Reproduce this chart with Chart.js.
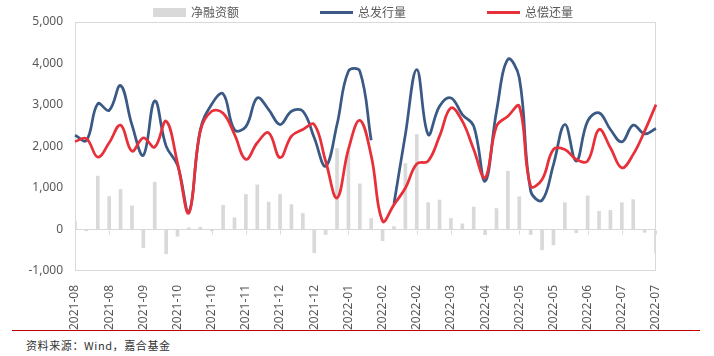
<!DOCTYPE html>
<html>
<head>
<meta charset="utf-8">
<script src="https://cdn.jsdelivr.net/npm/chart.js@4/dist/chart.umd.min.js"></script>
<style>
  html, body { margin: 0; padding: 0; background: #fff; }
  #wrap { position: relative; width: 714px; height: 356px; overflow: hidden; }
  #c { position: absolute; left: 0; top: 0; }
  #legend { position: absolute; top: 4px; left: 0; width: 714px; box-sizing: border-box; padding-left: 12px;
            display: flex; justify-content: center; gap: 81px; font: 12px "Noto Sans CJK SC", "Noto Sans", sans-serif; color: #595959; line-height: 16px; }
  .li { display: flex; align-items: center; }
  .sw { width: 33px; margin-right: 5px; }
  #rule { position: absolute; left: 12px; top: 330px; width: 688px; height: 1px; background: #C00000; }
  #src { position: absolute; left: 26px; top: 337px; font: 11px "Noto Sans CJK SC", sans-serif; color: #333; letter-spacing: 0.6px; }
</style>
</head>
<body>
<div id="wrap">
  <canvas id="c" width="714" height="330"></canvas>
  <div id="legend"></div>
  <div id="rule"></div>
  <div id="src">资料来源：Wind，嘉合基金</div>
</div>
<script>
// Weekly categories (month of each week)
const weeks = [
  '2021-08','2021-08','2021-08','2021-08','2021-08',
  '2021-09','2021-09','2021-09','2021-09',
  '2021-10','2021-10','2021-10','2021-10',
  '2021-11','2021-11','2021-11','2021-11','2021-11',
  '2021-12','2021-12','2021-12','2021-12',
  '2022-01','2022-01','2022-01','2022-01','2022-01',
  '2022-02','2022-02','2022-02','2022-02',
  '2022-03','2022-03','2022-03','2022-03',
  '2022-04','2022-04','2022-04','2022-04',
  '2022-05','2022-05','2022-05','2022-05','2022-05',
  '2022-06','2022-06','2022-06','2022-06',
  '2022-07','2022-07','2022-07','2022-07'
];

// 净融资额
const netFinancing = [
  185, -30, 1285, 795, 965, 570, -440, 1140, -585, -160,
  40, 55, -30, 585, 280, 845, 1075, 660, 845, 600,
  385, -560, -120, 1950, 1890, 1100, 265, -270, 70, 1590,
  2290, 645, 710, 265, 135, 540, -125, 505, 1405, 790,
  -120, -490, -370, 645, -78, 810, 440, 460, 645, 720,
  -68, -570
];

// 总发行量
const totalIssuance = [
  2270, 2145, 3030, 2870, 3470, 2520, 1790, 3100, 2010, 1550,
  420, 2400, 3020, 3270, 2400, 2480, 3170, 2890, 2530, 2850,
  2850, 2210, 1525, 2530, 3815, 3815, 2150, null, 620, 2290,
  3855, 2290, 2970, 3170, 2770, 2490, 1165, 2850, 4100, 3655,
  925, 705, 1565, 2530, 1650, 2610, 2810, 2410, 2110, 2515,
  2305, 2435
];

// 总偿还量
const totalRepayment = [
  2120, 2190, 1745, 2090, 2515, 1890, 2210, 1985, 2610, 1600,
  400, 2370, 2850, 2800, 2290, 1690, 2090, 2330, 1730, 2250,
  2410, 2530, 1650, 760, 1930, 2630, 1780, 200, 600, 1000,
  1580, 1650, 2250, 2930, 2610, 1930, 1245, 2490, 2730, 2970,
  1045, 1205, 1930, 1930, 1690, 1650, 2410, 1970, 1485, 1810,
  2370, 3010
];

const yTicks = [-1000, 0, 1000, 2000, 3000, 4000, 5000];

const GRAY = '#D9D9D9', BLUE = '#3A5A85', RED = '#E8303A', TXT = '#595959';
Chart.defaults.font.family = '"Noto Sans", "Noto Sans CJK SC", sans-serif';
Chart.defaults.font.size = 12;
Chart.defaults.color = TXT;

const framePlugin = {
  id: 'frame',
  beforeDatasetsDraw(chart) {
    const { ctx, chartArea: a, scales } = chart;
    ctx.save();
    ctx.strokeStyle = GRAY;
    ctx.lineWidth = 1;
    ctx.strokeRect(Math.round(a.left) + 0.5, Math.round(a.top) + 0.5, Math.round(a.right - a.left) - 1, Math.round(a.bottom - a.top) - 1);
    const y0 = Math.round(scales.y.getPixelForValue(0)) + 0.5;
    ctx.beginPath();
    weeks.forEach((w, i) => {
      if (i % 3 === 0) {
        const x = Math.round(scales.x.getPixelForValue(i)) + 0.5;
        ctx.moveTo(x, y0);
        ctx.lineTo(x, y0 + 4);
      }
    });
    ctx.stroke();
    ctx.restore();
  }
};

const chart = new Chart(document.getElementById('c'), {
  data: {
    labels: weeks,
    datasets: [
      { type: 'bar', label: '净融资额', data: netFinancing, backgroundColor: GRAY, barThickness: 3, order: 3 },
      { type: 'line', label: '总发行量', data: totalIssuance, borderColor: BLUE, backgroundColor: BLUE, borderWidth: 2.75, pointRadius: 0, tension: 0.4, spanGaps: false, order: 2 },
      { type: 'line', label: '总偿还量', data: totalRepayment, borderColor: RED, backgroundColor: RED, borderWidth: 2.75, pointRadius: 0, tension: 0.4, order: 1 }
    ]
  },
  options: {
    responsive: false,
    animation: false,
    devicePixelRatio: 1,
    layout: { padding: { top: 22, right: 58, left: 0, bottom: 0 } },
    plugins: { legend: { display: false }, tooltip: { enabled: false } },
    scales: {
      x: {
        type: 'category',
        offset: false,
        grid: { display: false },
        border: { display: false },
        ticks: {
          autoSkip: false, minRotation: 90, maxRotation: 90, padding: 6, color: TXT,
          callback: function (v, i) { return i % 3 === 0 ? this.getLabelForValue(v) : null; }
        },
        afterFit(s) { s.height = 59; }
      },
      y: {
        min: yTicks[0], max: yTicks[yTicks.length - 1],
        afterBuildTicks(s) { s.ticks = yTicks.map(v => ({ value: v })); },
        grid: { drawTicks: false, color: c => (c.tick && c.tick.value === 0 ? GRAY : 'rgba(0,0,0,0)'), lineWidth: 1 },
        border: { display: false },
        ticks: { padding: 12, color: TXT, callback: v => v.toLocaleString('en-US') },
        afterFit(s) { s.width = 75; }
      }
    }
  },
  plugins: [framePlugin]
});

// HTML legend built from the chart's datasets
const leg = document.getElementById('legend');
chart.data.datasets.forEach(ds => {
  const item = document.createElement('div');
  item.className = 'li';
  const sw = document.createElement('span');
  sw.className = 'sw';
  if (ds.type === 'bar') { sw.style.height = '9px'; sw.style.background = ds.backgroundColor; }
  else { sw.style.height = '3px'; sw.style.background = ds.borderColor; }
  const t = document.createElement('span');
  t.textContent = ds.label;
  item.appendChild(sw); item.appendChild(t);
  leg.appendChild(item);
});
</script>
</body>
</html>
